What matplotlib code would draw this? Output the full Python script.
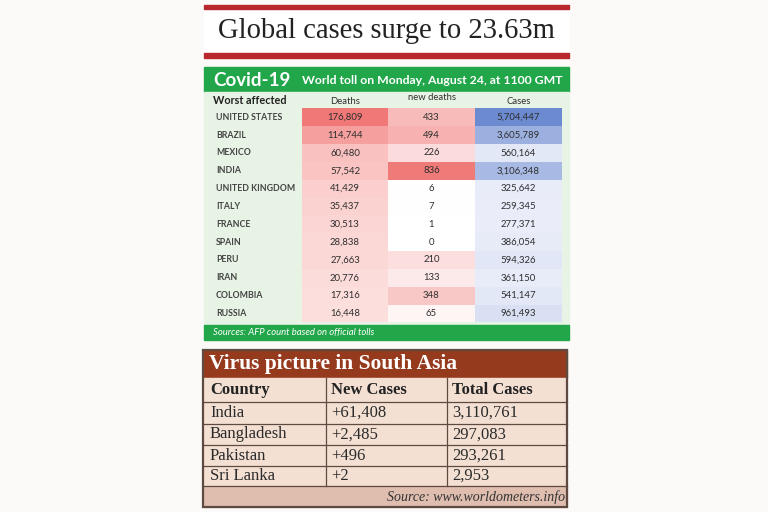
import numpy as np
import matplotlib.pyplot as plt
from matplotlib.patches import Rectangle
from matplotlib.colors import to_rgb

# --- data ---
title = "Global cases surge to 23.63m"
countries = ["UNITED STATES", "BRAZIL", "MEXICO", "INDIA", "UNITED KINGDOM", "ITALY",
             "FRANCE", "SPAIN", "PERU", "IRAN", "COLOMBIA", "RUSSIA"]
deaths = [176809, 114744, 60480, 57542, 41429, 35437, 30513, 28838, 27663, 20776, 17316, 16448]
new_deaths = [433, 494, 226, 836, 6, 7, 1, 0, 210, 133, 348, 65]
cases = [5704447, 3605789, 560164, 3106348, 325642, 259345, 277371, 386054, 594326, 361150, 541147, 961493]

sa_countries = ["India", "Bangladesh", "Pakistan", "Sri Lanka"]
sa_new = [61408, 2485, 496, 2]
sa_total = [3110761, 297083, 293261, 2953]

# --- colours ---
GREEN = "#22a64a"
LIGHT_GREEN = "#e7f3e4"
RED_LINE = "#b8282e"
BROWN = "#963a1d"
PEACH = "#f3e0d3"
SRC_ROW = "#dfbdaf"
GRID = "#5e4a40"
TXT = "#2e2e2e"


def shade(v, vmax, top, base="#ffffff"):
    t = v / vmax
    a, b = np.array(to_rgb(base)), np.array(to_rgb(top))
    return tuple(a + (b - a) * t)


fig = plt.figure(figsize=(7.68, 5.12), dpi=100)
fig.patch.set_facecolor("#fbfaf8")
ax = fig.add_axes([0, 0, 1, 1])
ax.set_xlim(0, 768)
ax.set_ylim(512, 0)
ax.axis("off")

L, R = 204, 569

# title block
ax.add_patch(Rectangle((L, 9), R - L, 44, color="white", zorder=0))
ax.add_patch(Rectangle((L, 4.5), R - L, 4.5, color=RED_LINE))
ax.add_patch(Rectangle((L, 53), R - L, 4.5, color=RED_LINE))
ax.text((L + R) / 2, 31, title, family="Liberation Serif", fontsize=20.6,
        color="#222222", ha="center", va="center")

# covid table
ax.add_patch(Rectangle((L, 67), R - L, 25, color=GREEN))
ax.text(213, 80, "Covid-19", family="Lato", weight="bold", fontsize=13.5,
        color="white", ha="left", va="center")
ax.text(563, 80, "World toll on Monday, August 24, at 1100 GMT", family="Lato",
        weight="bold", fontsize=8.8, color="white", ha="right", va="center")
ax.add_patch(Rectangle((L, 92), R - L, 233, color=LIGHT_GREEN))
ax.add_patch(Rectangle((L, 325), R - L, 15, color=GREEN))
ax.text(213, 333, "Sources: AFP count based on official tolls", family="Lato",
        style="italic", fontsize=6.8, color="white", ha="left", va="center")

col_edges = [302, 388, 475, 562]
ax.text(213, 100, "Worst affected", family="Lato", weight="bold", fontsize=7.8,
        color="#222222", ha="left", va="center")
for j, (h, yy) in enumerate([("Deaths", 101), ("new deaths", 97), ("Cases", 101)]):
    ax.text((col_edges[j] + col_edges[j + 1]) / 2, yy, h, family="Lato",
            fontsize=6.8, color=TXT, ha="center", va="center")

row0, rh = 117.3, 17.83
series = [(deaths, "#f07876", "#fde9e7"), (new_deaths, "#ef7b79", "#ffffff"),
          (cases, "#6b8ad0", "#f0f2fb")]
for i, c in enumerate(countries):
    y = row0 + i * rh
    ax.text(216, y, c, family="Lato", weight="bold", fontsize=6.3, color="#444444",
            ha="left", va="center")
    for j, (vals, top, base) in enumerate(series):
        x0, x1 = col_edges[j], col_edges[j + 1]
        ax.add_patch(Rectangle((x0, y - rh / 2), x1 - x0, rh,
                               color=shade(vals[i], max(vals), top, base), lw=0))
        ax.text((x0 + x1) / 2, y, f"{vals[i]:,}", family="Lato", fontsize=6.9,
                color=TXT, ha="center", va="center")

# south asia table
T, B = 350, 507
ax.add_patch(Rectangle((L - 1, T), R - L - 1, 28, color=BROWN))
ax.text(209, 364, "Virus picture in South Asia", family="Liberation Serif",
        weight="bold", fontsize=15.5, color="white", ha="left", va="center")
row_lines = [378, 402, 424, 445, 466, 486]
ax.add_patch(Rectangle((L - 1, 378), R - L - 1, 108, color=PEACH))
ax.add_patch(Rectangle((L - 1, 486), R - L - 1, B - 486, color=SRC_ROW))
for yl in row_lines[1:]:
    ax.plot([L - 1, R - 2], [yl, yl], color=GRID, lw=0.9)
for xl in [326, 447]:
    ax.plot([xl, xl], [378, 486], color=GRID, lw=0.9)
ax.add_patch(Rectangle((L - 1, T), R - L - 1, B - T, fill=False, ec=GRID, lw=1.6))

cols_x = [210, 331, 452]
hy = (row_lines[0] + row_lines[1]) / 2
for h, x in zip(["Country", "New Cases", "Total Cases"], cols_x):
    ax.text(x, hy, h, family="Liberation Serif", weight="bold", fontsize=12,
            color="#222222", ha="left", va="center")
for i, c in enumerate(sa_countries):
    y = (row_lines[i + 1] + row_lines[i + 2]) / 2
    for s, x in zip([c, f"+{sa_new[i]:,}", f"{sa_total[i]:,}"], cols_x):
        ax.text(x, y, s, family="Liberation Serif", fontsize=12, color="#2a2a2a",
                ha="left", va="center")
ax.text(565, 497, "Source: www.worldometers.info", family="Liberation Serif",
        style="italic", fontsize=10, color="#333333", ha="right", va="center")

fig.savefig("out.png", dpi=100, facecolor=fig.get_facecolor())
